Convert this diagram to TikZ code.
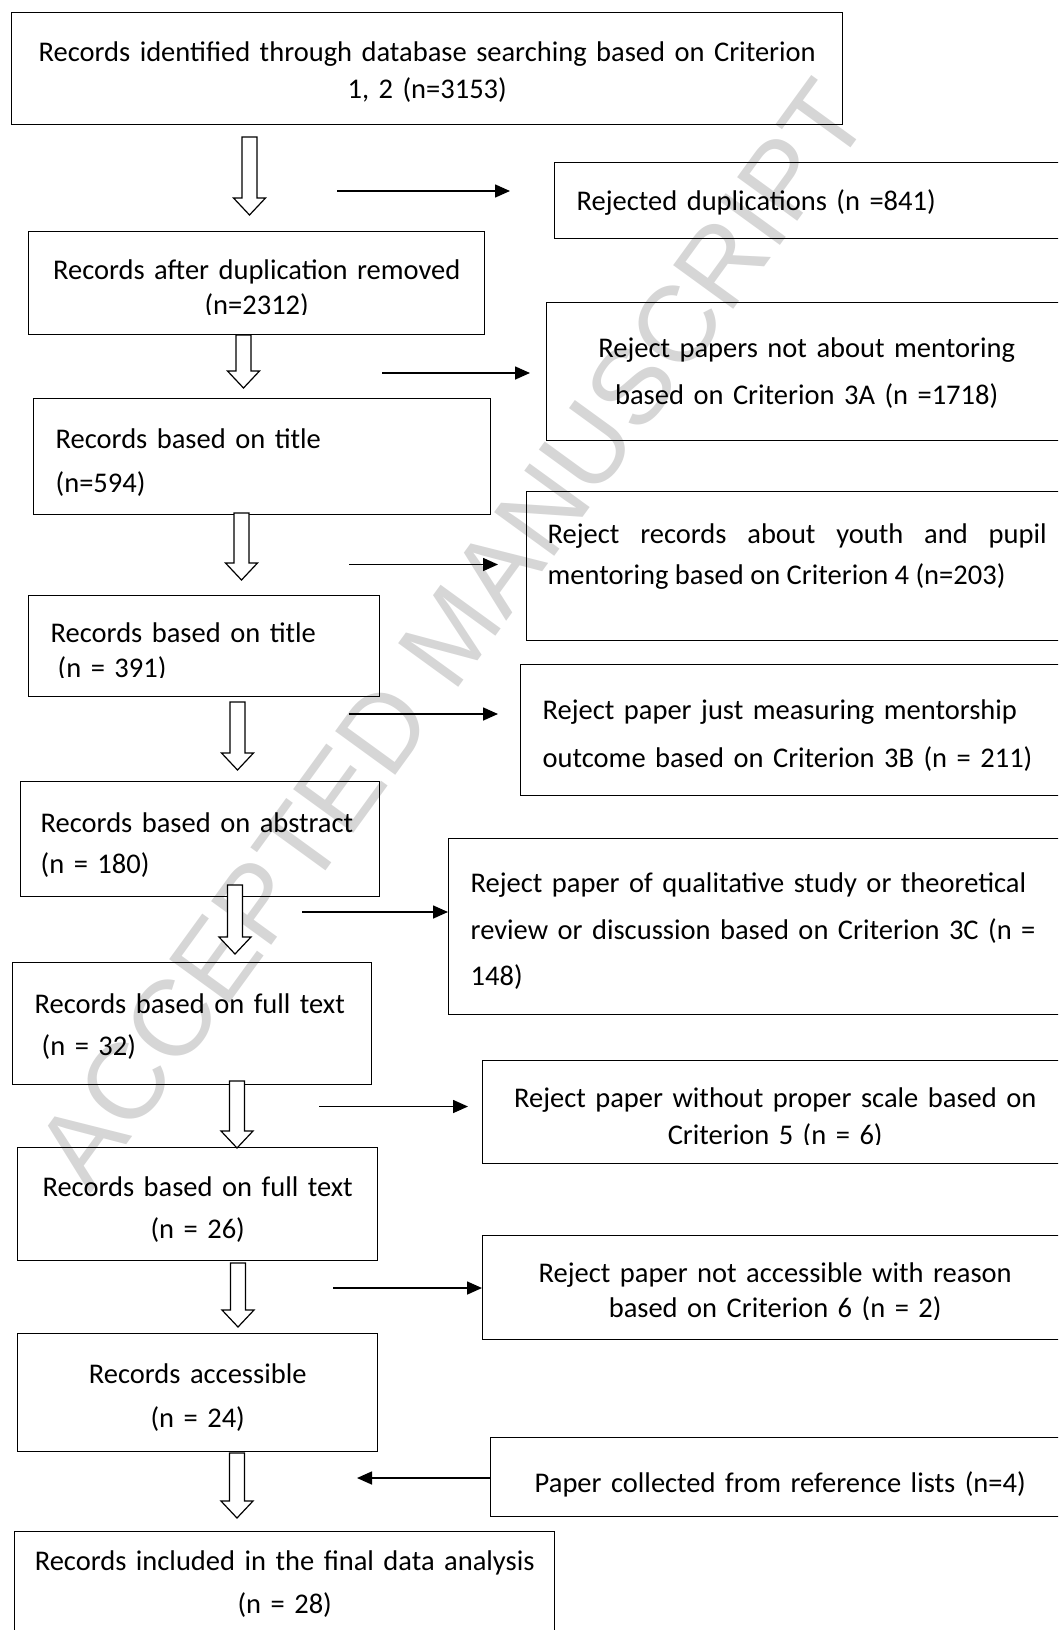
\documentclass[tikz,border=0pt]{standalone}
\usepackage{fontspec}
\setmainfont{Carlito}
\newfontfamily\wmfont{Liberation Sans}
\usepackage{trimclip}
\usetikzlibrary{arrows.meta,calc}
\hyphenpenalty=10000

\begin{document}
\begin{tikzpicture}[x=1pt,y=-1pt,
  box/.style={draw,line width=1.4pt,anchor=north west,inner xsep=22pt,inner ysep=0pt},
  mid/.style={box,inner xsep=4pt,align=center},
  lsep/.style={font=\fontsize{28.5}{#1}\selectfont},
  fat/.style={draw,fill=white,line width=1.2pt,to path={let \p1=(\tikztostart),\p2=(\tikztotarget) in
    ({\x1-7.5pt},\y1) -- ({\x1+7.5pt},\y1) -- ({\x1+7.5pt},{\y2+17pt}) -- ({\x1+16pt},{\y2+17pt})
    -- (\x1,\y2) -- ({\x1-16pt},{\y2+17pt}) -- ({\x1-7.5pt},{\y2+17pt}) -- cycle}},
  link/.style={line width=1.6pt,-{Triangle[length=15pt,width=13pt]}},
  wm/.style={font=\wmfont\fontsize{108}{108}\selectfont,text=black!16,rotate=54}]
\useasboundingbox (0,0) rectangle (1058,1630);
\clip (0,0) rectangle (1058,1630);

\coordinate (W) at (452,634);
\coordinate (P1) at (11,12);
\coordinate (P2) at (28,231);
\coordinate (P3) at (33,398);
\coordinate (P4) at (28,595);
\coordinate (P5) at (20,781);
\coordinate (P6) at (12,962);
\coordinate (P7) at (17,1147);
\coordinate (P8) at (17,1333);
\coordinate (P9) at (14,1531);
\coordinate (Q1) at (554,162);
\coordinate (Q2) at (546,302);
\coordinate (Q3) at (526,491);
\coordinate (Q4) at (520,664);
\coordinate (Q5) at (448,838);
\coordinate (Q6) at (482,1060);
\coordinate (Q7) at (482,1235);
\coordinate (Q8) at (490,1437);

\node[wm] (mark) at (W) {ACCEPTED MANUSCRIPT};

\node[mid,lsep=37,text width=823pt,text height=49pt,text depth=63pt] (rec1) at (P1)
  {Records identified through database searching based on Criterion\\ 1, 2 (n=3153)};
\node[mid,lsep=35,text width=448pt,text height=48pt,text depth=55pt] (rec2) at (P2)
  {Records after duplication removed\\ \clipbox{0pt \depth{} 0pt 0pt}{(n=2312)}};
\node[box,lsep=44,text width=413pt,text height=50pt,text depth=66pt,align=left] (rec3) at (P3)
  {Records based on title\\ (n=594)};
\node[box,lsep=35,text width=307pt,text height=47pt,text depth=54pt,align=left] (rec4) at (P4)
  {Records based on title\\ \hspace*{7pt}\clipbox{0pt \depth{} 0pt 0pt}{(n = 391)}};
\node[box,inner xsep=20pt,lsep=41,text width=319pt,text height=51pt,text depth=64pt,align=left] (rec5) at (P5)
  {Records based on abstract\\ (n = 180)};
\node[box,lsep=42,text width=315pt,text height=51pt,text depth=71pt,align=left] (rec6) at (P6)
  {Records based on full text\\ \hspace*{7pt}(n = 32)};
\node[mid,lsep=42,text width=352pt,text height=49pt,text depth=64pt] (rec7) at (P7)
  {Records based on full text\\ (n = 26)};
\node[mid,lsep=44,text width=352pt,text height=50pt,text depth=68pt] (rec8) at (P8)
  {Records accessible\\ (n = 24)};
\node[mid,lsep=43,text width=532pt,text height=39pt,text depth=80pt] (rec9) at (P9)
  {Records included in the final data analysis\\ (n = 28)};

\node[box,lsep=37,text width=470pt,text height=48pt,text depth=28pt,align=left] (rej1) at (Q1)
  {Rejected duplications (n =841)};
\node[mid,lsep=46.5,text width=512pt,text height=55pt,text depth=83pt] (rej2) at (Q2)
  {Reject papers not about mentoring\\ based on Criterion 3A (n =1718)};
\node[box,inner xsep=21pt,lsep=41,text width=499pt,text height=52pt,text depth=97pt,align=justify] (rej3) at (Q3)
  {Reject records about youth and pupil\linebreak mentoring based on Criterion 4 (n=203)};
\node[box,lsep=47.5,text width=503pt,text height=55pt,text depth=76pt,align=left] (rej4) at (Q4)
  {Reject paper just measuring mentorship\\ outcome based on Criterion 3B (n = 211)};
\node[box,lsep=46.5,text width=575pt,text height=54pt,text depth=122pt,align=left] (rej5) at (Q5)
  {Reject paper of qualitative study or theoretical\\ review or discussion based on Criterion 3C (n =\\ 148)};
\node[mid,lsep=37,text width=577pt,text height=47pt,text depth=56pt] (rej6) at (Q6)
  {Reject paper without proper scale based on\\ \clipbox{0pt \depth{} 0pt 0pt}{Criterion 5 (n = 6)}};
\node[mid,lsep=35,text width=577pt,text height=47pt,text depth=57pt] (rej7) at (Q7)
  {Reject paper not accessible with reason\\ \clipbox{0pt 2pt 0pt 0pt}{based on Criterion 6 (n = 2)}};
\node[mid,lsep=37,text width=571pt,text height=55pt,text depth=24pt] (rej8) at (Q8)
  {Paper collected from reference lists (n=4)};

% hollow arrows down the main column
\coordinate (d1) at (249.5,137);  \coordinate (d1e) at (249.5,215);
\coordinate (d2) at (243.5,335);  \coordinate (d2e) at (243.5,388);
\coordinate (d3) at (241.5,513);  \coordinate (d3e) at (241.5,580);
\coordinate (d4) at (237.5,702);  \coordinate (d4e) at (237.5,770);
\coordinate (d5) at (235,885);    \coordinate (d5e) at (235,954);
\coordinate (d6) at (237,1081);   \coordinate (d6e) at (237,1148);
\coordinate (d7) at (238,1263);   \coordinate (d7e) at (238,1327);
\coordinate (d8) at (237,1453);   \coordinate (d8e) at (237,1518);
\foreach \i in {1,...,8}
  \draw[fat] (d\i) to (d\i e);

% side arrows
\coordinate (h1) at (337,191);    \coordinate (h1e) at (510,191);
\coordinate (h2) at (382,373);    \coordinate (h2e) at (530,373);
\coordinate (h3) at (349,564.5);  \coordinate (h3e) at (498,564.5);
\coordinate (h4) at (349,714);    \coordinate (h4e) at (498,714);
\coordinate (h5) at (302,912);
\coordinate (h6) at (319,1106.5); \coordinate (h6e) at (468,1106.5);
\coordinate (h7) at (333,1288);
\coordinate (h8) at (357,1478);

\draw[link] (h1) -- (h1e);
\draw[link] (h2) -- (h2e);
\draw[link] (h3) -- (h3e);
\draw[link] (h4) -- (h4e);
\draw[link] (h5) -- (h5 -| rej5.west);
\draw[link] (h6) -- (h6e);
\draw[link] (h7) -- (h7 -| rej7.west);
\draw[link] (h8 -| rej8.west) -- (h8);

\end{tikzpicture}
\end{document}
